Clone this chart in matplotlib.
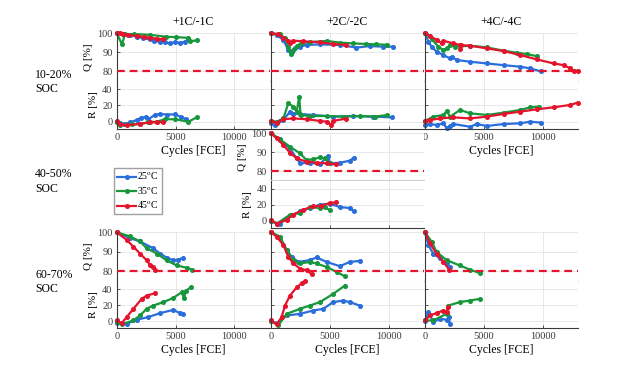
import matplotlib
matplotlib.use("Agg")
import matplotlib.pyplot as plt
from matplotlib.lines import Line2D

plt.rcParams['font.family'] = ['Liberation Serif', 'DejaVu Serif']
plt.rcParams['mathtext.fontset'] = 'stix'

temps = ['25', '35', '45']
colors = {'25': '#2a6edb', '35': '#17973c', '45': '#e5142d'}
col_titles = ['+1C/-1C', '+2C/-2C', '+4C/-4C']
soc_labels = ['10-20%\nSOC', '40-50%\nSOC', '60-70%\nSOC']

# capacity (Q) and resistance (R) vs FCE
# 10-20% SOC, +1C/-1C
q_s10_1c_25 = [(0, 100), (500, 99.6), (1100, 99), (1700, 98.2), (2200, 97.5), (2800, 96.8), (3200, 96), (3700, 95.6),
               (4100, 95.2), (4500, 94.7), (4950, 95.4), (5400, 94.9), (5800, 95.6), (6100, 96.8)]
q_s10_1c_35 = [(0, 100), (450, 94.2), (700, 99.6), (1500, 99.6), (2800, 99.2), (4200, 98.2), (5000, 98),
               (6100, 97.6), (6200, 95.8), (6800, 96.3)]
q_s10_1c_45 = [(0, 100), (300, 100), (500, 99.6), (1000, 99.2), (1700, 98.6), (2300, 98.1), (2800, 97.7),
               (3400, 97.2), (3900, 96.8)]
r_s10_1c_25 = [(0, -1), (300, -2), (600, -3), (1100, -1), (1700, 2), (2100, 5), (2500, 6), (2700, 3), (3250, 8.5),
               (3700, 9.5), (4250, 8.8), (4950, 9), (5500, 5.5), (5900, 3)]
r_s10_1c_35 = [(0, 0), (300, -4), (1300, -3.3), (2000, -3), (2700, -0.5), (3400, 0), (4100, 3), (4950, 3),
               (6100, 0), (6800, 5.3)]
r_s10_1c_45 = [(0, 1), (300, -3), (850, -4.5), (2000, -2.5), (2800, -1), (3400, -0.6), (3900, -0.4)]

# 10-20% SOC, +2C/-2C
q_s10_2c_25 = [(0, 100), (480, 99.1), (1050, 96.5), (1470, 91.2), (1750, 90.4), (2030, 92.1), (2460, 93),
               (3020, 93.9), (4150, 94.2), (5850, 93.9), (7260, 92.5), (8390, 93.3), (9520, 93), (10370, 93)]
q_s10_2c_35 = [(0, 100), (760, 99.5), (1190, 97.4), (1470, 93), (1670, 89.1), (1890, 91.2), (2180, 93.3),
               (2600, 95.1), (3300, 95.4), (4720, 96), (5850, 95.1), (6980, 94.7), (8110, 94.4), (8960, 94.2),
               (9890, 94)]
q_s10_2c_45 = [(0, 100), (620, 99.5), (1050, 97.7), (1470, 96.1), (1610, 95.1), (1890, 96.1), (2740, 95.8),
               (4150, 95.3), (5280, 94.4), (6360, 93.9)]
r_s10_2c_25 = [(0, -1.2), (340, -4.5), (1050, 2), (1610, 12.3), (1890, 10), (2460, 9.5), (3590, 8.2),
               (5280, 6.2), (6980, 7), (8670, 6.2), (10310, 5.3)]
r_s10_2c_35 = [(0, 1), (480, 0), (1050, 4), (1470, 22.6), (1890, 18.5), (2180, 12.3), (2400, 30.9), (2510, 8.2),
               (3300, 7), (4720, 7), (6130, 6.2), (7540, 7), (8810, 6.2), (9890, 8.2)]
r_s10_2c_45 = [(0, 1), (480, -1.2), (1050, 3), (1890, 4), (3020, 3), (4150, 1), (4720, 0), (5140, -4.1),
               (5280, 1), (6360, 3.7)]

# 10-20% SOC, +4C/-4C
q_s10_4c_25 = [(0, 100), (280, 95.6), (570, 93), (990, 90.4), (1560, 88.6), (2130, 86.8), (2270, 87.7),
               (2700, 86), (3830, 85.1), (5250, 84.2), (6670, 83.3), (8090, 82.5), (8950, 81.6), (9850, 80)]
q_s10_4c_35 = [(0, 100), (570, 96.8), (1140, 93), (1560, 91.2), (1850, 92.1), (2130, 93.9), (2560, 93),
               (3830, 93.5), (5250, 92.6), (6670, 90.9), (7810, 89.8), (8660, 89.1), (9510, 88)]
q_s10_4c_45 = [(0, 100), (430, 98.6), (990, 96.5), (1420, 94.7), (1560, 96.1), (2410, 94.7), (2980, 93.9),
               (3000, 92), (3050, 93.8), (3830, 93.5), (5250, 92.1), (6670, 90.7), (8090, 88.6), (9510, 86.3),
               (10930, 84.2), (11790, 83.3), (12350, 81.6), (12640, 80.4), (12980, 80.4)]
r_s10_4c_25 = [(0, -4.1), (430, -2.9), (990, -4.1), (1560, -2), (1850, -8.2), (2130, -5.3), (2410, -2.9),
               (3830, -6.2), (4400, -2.9), (5250, -5.3), (6670, -2.9), (8090, -2), (8950, 0), (9850, -1.2)]
r_s10_4c_35 = [(0, 1), (710, 6.2), (1560, 8.2), (1850, 13.2), (2130, 6.2), (2980, 14.4), (3830, 10.3),
               (5250, 8.2), (6670, 11.1), (8090, 14.4), (8950, 17.7), (9660, 18.5)]
r_s10_4c_45 = [(0, 1), (430, 2), (1280, 4), (2410, 5.3), (3830, 4), (5250, 6.2), (6670, 9.5), (8090, 12.3),
               (9510, 15.2), (10930, 17.7), (12350, 20.6), (12980, 23.5)]

# 40-50% SOC, +2C/-2C
q_s40_2c_25 = [(0, 100), (760, 96.5), (1610, 92), (2180, 86.7), (2460, 84.1), (3300, 84.4), (4150, 83.7),
               (4860, 88), (5000, 84.1), (5850, 84.4), (6700, 85.5), (7030, 87.1)]
q_s40_2c_35 = [(0, 100), (760, 96.8), (1610, 92.9), (2460, 89.4), (3020, 85.8), (3590, 86.2), (4150, 87.3),
               (4580, 86.7), (5000, 84.1)]
q_s40_2c_45 = [(0, 100), (480, 97.3), (1050, 93.8), (1610, 89.7), (2180, 86.7), (3020, 85), (3870, 84.4),
               (4720, 84.1), (5510, 83.5)]
r_s40_2c_25 = [(0, -0.8), (760, -3.7), (1330, 3.3), (2460, 11.6), (3300, 15.8), (4150, 20), (5000, 21.2),
               (5850, 17), (6700, 15.8), (7030, 11.6)]
r_s40_2c_35 = [(0, 0), (480, -3.7), (1610, 7.5), (2460, 9.6), (3300, 17), (4150, 15.8), (4580, 17), (5000, 13)]
r_s40_2c_45 = [(0, 1.2), (480, -3.7), (1330, 1.2), (1890, 7.5), (2740, 13.7), (3590, 17.9), (4290, 18.7),
               (5000, 22), (5510, 22.9)]

# 60-70% SOC, +1C/-1C
q_s60_1c_25 = [(0, 100), (1130, 97), (1980, 95.3), (3110, 91.8), (3680, 89.1), (4250, 87), (4810, 85.6),
               (5240, 86), (5600, 86.8)]
q_s60_1c_35 = [(0, 100), (1130, 97.9), (1980, 95.3), (2550, 91.8), (3400, 89.1), (4250, 85.6), (5090, 83),
               (5940, 81.8), (6370, 80.9)]
q_s60_1c_45 = [(0, 100), (850, 96.1), (1420, 92.6), (1980, 89.1), (2550, 85.6), (2830, 83.3), (3110, 82.1),
               (3250, 80.4)]
r_s60_1c_25 = [(0, -2.5), (850, -3.3), (1700, 1.7), (2690, 5), (3680, 9.9), (4810, 14), (5380, 9.9), (5600, 8.3)]
r_s60_1c_35 = [(0, -1.2), (420, -4.1), (1420, 0.8), (1980, 7), (2550, 15.3), (3110, 19.4), (3960, 23.6),
               (4810, 28.9), (5520, 36), (5720, 28.9), (5890, 38), (6280, 42)]
r_s60_1c_45 = [(0, 0.8), (420, -2.5), (850, 5), (1420, 15.3), (2120, 27.7), (2550, 31.8), (3250, 34.7)]

# 60-70% SOC, +2C/-2C
q_s60_2c_25 = [(0, 100), (760, 96.9), (1330, 90.9), (1750, 87.4), (2320, 84.8), (3300, 85.7), (3870, 87.1),
               (4720, 84.8), (5850, 82.6), (6700, 84.8), (7540, 85.3)]
q_s60_2c_35 = [(0, 100), (760, 97.8), (1330, 90.9), (1890, 85.7), (2460, 84), (3300, 84.8), (3870, 84),
               (4720, 82.2), (5570, 79.7), (6270, 77.4)]
q_s60_2c_45 = [(0, 100), (480, 97.8), (1050, 93.4), (1470, 87.4), (1890, 84), (2460, 81.4), (3020, 80.5),
               (3450, 78.4)]
r_s60_2c_25 = [(0, 0), (480, -2.5), (1330, 7), (2460, 9), (3590, 13.2), (4440, 15.3), (5280, 23.6), (6130, 25.6),
               (6700, 23.6), (7540, 19.4)]
r_s60_2c_35 = [(0, 0), (620, -5.4), (1330, 9), (2460, 15.3), (3300, 19.4), (4150, 23.6), (5280, 33.9), (6270, 44.2)]
r_s60_2c_45 = [(0, 0.8), (480, -4.1), (900, 5), (1190, 19.4), (1610, 31.8), (2180, 42), (2600, 47), (2880, 49.6)]

# 60-70% SOC, +4C/-4C
q_s60_4c_25 = [(0, 100), (280, 93.4), (700, 89.1), (1260, 86.6), (1830, 84), (2110, 82.2)]
q_s60_4c_35 = [(0, 100), (560, 95.2), (980, 90), (1830, 85.7), (2950, 83), (3790, 80.9), (4640, 79.1)]
q_s60_4c_45 = [(0, 100), (420, 94.3), (980, 89.1), (1550, 84.8), (2050, 80.9)]
r_s60_4c_25 = [(0, 0), (280, 11.2), (700, -1.2), (1260, 2.9), (1830, 1.7), (2050, 5), (2110, -4.1)]
r_s60_4c_35 = [(0, 0.8), (700, 0.8), (1830, 9), (1970, 19.4), (2950, 23.6), (3790, 25.6), (4640, 27.7)]
r_s60_4c_45 = [(0, 0.8), (420, 7), (980, 10), (1550, 13.2), (1830, 11.2), (1970, 17.4)]

cells = {
    (0, 0): ([q_s10_1c_25, q_s10_1c_35, q_s10_1c_45], [r_s10_1c_25, r_s10_1c_35, r_s10_1c_45]),
    (0, 1): ([q_s10_2c_25, q_s10_2c_35, q_s10_2c_45], [r_s10_2c_25, r_s10_2c_35, r_s10_2c_45]),
    (0, 2): ([q_s10_4c_25, q_s10_4c_35, q_s10_4c_45], [r_s10_4c_25, r_s10_4c_35, r_s10_4c_45]),
    (1, 1): ([q_s40_2c_25, q_s40_2c_35, q_s40_2c_45], [r_s40_2c_25, r_s40_2c_35, r_s40_2c_45]),
    (2, 0): ([q_s60_1c_25, q_s60_1c_35, q_s60_1c_45], [r_s60_1c_25, r_s60_1c_35, r_s60_1c_45]),
    (2, 1): ([q_s60_2c_25, q_s60_2c_35, q_s60_2c_45], [r_s60_2c_25, r_s60_2c_35, r_s60_2c_45]),
    (2, 2): ([q_s60_4c_25, q_s60_4c_35, q_s60_4c_45], [r_s60_4c_25, r_s60_4c_35, r_s60_4c_45]),
}

W, H = 636, 369
fig = plt.figure(figsize=(W / 100, H / 100), dpi=100)

col_left = [116.7, 271, 425]
col_w = 153
rows_px = [(33.3, 81, 129), (133.3, 180.5, 228), (232.3, 281, 328.3)]
ylabels_on = {(0, 0), (1, 1), (2, 0)}
xlabels_on = {(0, 0), (0, 2), (2, 0), (2, 1), (2, 2)}
axcol = '#3a3a3a'


def px_axes(left, top, bottom):
    return fig.add_axes([left / W, 1 - bottom / H, col_w / W, (bottom - top) / H])


def style(ax, yticks, show_y, show_x):
    ax.set_xlim(0, 13000)
    ax.set_xticks([0, 5000, 10000])
    ax.set_yticks(yticks)
    ax.grid(True, color='#e4e4e4', lw=0.6)
    ax.set_axisbelow(True)
    for s in ['top', 'right']:
        ax.spines[s].set_visible(False)
    ax.spines['left'].set_color(axcol)
    ax.spines['bottom'].set_color(axcol)
    ax.tick_params(direction='in', length=2, width=0.6, colors=axcol, labelsize=7.5, pad=3)
    if not show_y:
        ax.tick_params(labelleft=False)
    if not show_x:
        ax.tick_params(labelbottom=False)


for (r, c), (qs, rs) in cells.items():
    top, mid, bot = rows_px[r]
    axq = px_axes(col_left[c], top, mid)
    axr = px_axes(col_left[c], mid, bot)
    show_y = (r, c) in ylabels_on
    show_x = (r, c) in xlabels_on
    style(axq, [80, 90, 100], show_y, False)
    style(axr, [0, 20, 40], show_y, show_x)
    axq.spines['bottom'].set_color('#d0d0d0')
    axq.tick_params(axis='x', length=0)
    axq.set_ylim(75, 100)
    axr.set_ylim(-9, 50)
    for t, qd, rd in zip(temps, qs, rs):
        axq.plot([p[0] for p in qd], [p[1] for p in qd], '-o', color=colors[t], lw=1.6, ms=2.6, clip_on=False)
        axr.plot([p[0] for p in rd], [p[1] for p in rd], '-o', color=colors[t], lw=1.6, ms=2.6, clip_on=False)
    axq.axhline(80, color='#e5142d', lw=1.6, dashes=(3.5, 2.2), zorder=5)
    if show_y:
        axq.set_ylabel('Q [%]', fontsize=8, labelpad=3)
        axr.set_ylabel('R [%]', fontsize=8, labelpad=3)
    if show_x:
        axr.set_xlabel('Cycles [FCE]', fontsize=8.5, labelpad=2)
    if r == 0:
        axq.set_title(col_titles[c], fontsize=8.5, pad=6)

for r, lab in enumerate(soc_labels):
    fig.text(35 / W, 1 - (rows_px[r][1] + 1) / H, lab, fontsize=8.5, ha='left', va='center', linespacing=1.3)

handles = [Line2D([], [], color=colors[t], lw=1.6, marker='o', ms=2.6) for t in temps]
fig.legend(handles, [t + r'$^{\mathrm{o}}$C' for t in temps], loc='upper left',
           bbox_to_anchor=(114 / W, 1 - 168 / H), fontsize=7, frameon=True, fancybox=False,
           edgecolor='#888888', handlelength=2.0, handletextpad=0.1, borderpad=0.3,
           labelspacing=0.3, borderaxespad=0)

fig.savefig('out.png', dpi=100)
